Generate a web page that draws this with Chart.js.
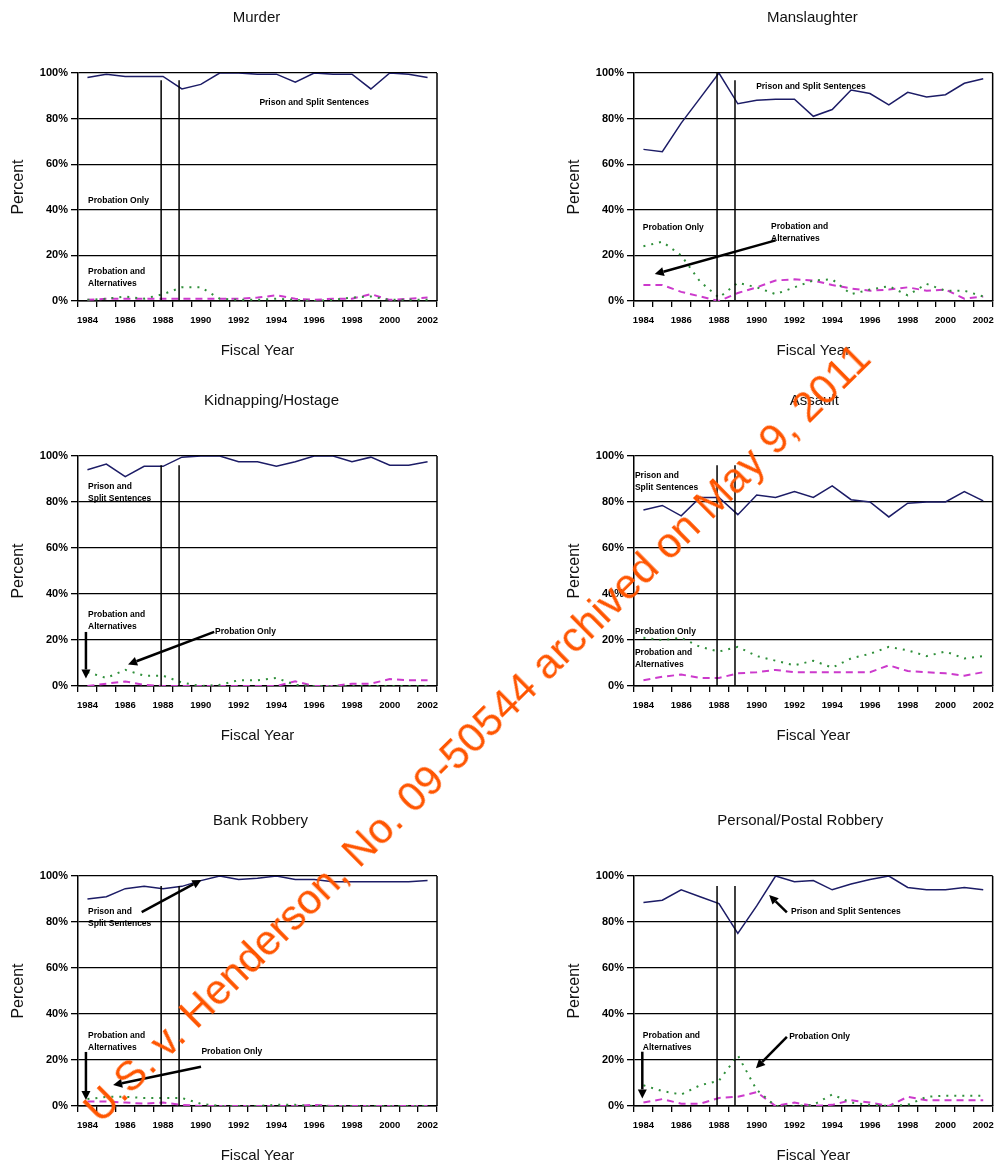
<!DOCTYPE html>
<html>
<head>
<meta charset="utf-8">
<title>Sentence type by offense, FY1984-2002</title>
<script src="https://cdn.jsdelivr.net/npm/chart.js"></script>
<style>
  body { margin: 0; background: #fff; }
  #page { position: relative; width: 1002px; height: 1167px; overflow: hidden; background: #fff; }
  #page canvas { position: absolute; }
  #stamp {
    position: absolute; left: 477px; top: 733px;
    transform: translate(-50%, -50%) rotate(-44.7deg);
    font: 42px "Liberation Sans", Arial, sans-serif; line-height: 1.15;
    color: #ff5500; white-space: nowrap;
  }
</style>
</head>
<body>
<div id="page">
  <canvas id="murder"></canvas>
  <canvas id="manslaughter"></canvas>
  <canvas id="kidnapping"></canvas>
  <canvas id="assault"></canvas>
  <canvas id="bank"></canvas>
  <canvas id="postal"></canvas>
  <div id="stamp">U.S. v. Henderson, No. 09-50544 archived on May 9, 2011</div>
</div>
<script>
// fiscal years on the category axis, every other one labelled
const years = ['1984','1985','1986','1987','1988','1989','1990','1991','1992','1993',
               '1994','1995','1996','1997','1998','1999','2000','2001','2002'];
const yTicks = [0, 20, 40, 60, 80, 100];

// percent of cases per year
const murderPrison   = [98, 99.5, 98.5, 98.5, 98.5, 93, 95, 100, 100, 99.5, 99.5, 96, 100, 99.5, 99.5, 93, 100, 99.5, 98];
const murderProbOnly = [0.5, 1, 2, 1, 3, 6, 6, 1, 0.5, 0.5, 1, 0.5, 0, 0.5, 1.5, 2, 0.5, 0.5, 0.5];
const murderProbAlt  = [0.5, 1, 1, 1, 1, 1, 1, 1, 1, 1.5, 2.5, 1, 0.5, 1, 1, 3, 0.5, 1, 1.5];

const manPrison   = [66.5, 65.5, 78, 89, 100, 86.5, 88, 88.5, 88.5, 81, 84, 92.5, 91, 86, 91.5, 89.5, 90.5, 95.5, 97.5];
const manProbOnly = [24, 26, 20, 8.5, 1.5, 8, 6, 3, 6, 9, 9.5, 3, 5, 6.5, 2.5, 7.5, 4.5, 4.5, 2];
const manProbAlt  = [7, 7, 4, 2, 0, 3.5, 6, 9, 9.5, 9, 7, 5.5, 4.5, 5, 6, 4.5, 5, 1, 2];

const kidPrison   = [94, 96.5, 91, 95.5, 95.5, 99.5, 100, 100, 97.5, 97.5, 95.5, 97.5, 100, 100, 97.5, 99.5, 96, 96, 97.5];
const kidProbOnly = [6, 3.5, 7, 4.5, 4.5, 1.5, 0, 0.5, 2.5, 2.5, 3.5, 0.5, 0, 0, 0, 0, 0, 0, 0];
const kidProbAlt  = [0, 1, 2, 0.5, 0, 0, 0, 0, 0, 0, 0, 2, 0, 0, 1, 1, 3, 2.5, 2.5];

const assaultPrison   = [76.5, 78.5, 74, 82, 82, 74.5, 83, 82, 84.5, 82, 87, 81, 80, 73.5, 79.5, 80, 80, 84.5, 80.5];
const assaultProbOnly = [21, 20, 21, 17, 15, 17, 13, 11, 9, 11, 8, 12, 14, 17, 15.5, 13, 15, 12, 13];
const assaultProbAlt  = [2.5, 4, 5, 3.5, 3.5, 5.5, 6, 7, 6, 6, 6, 6, 6, 9, 6.5, 6, 5.5, 4.5, 6];

const bankPrison   = [90, 91, 94.5, 95.5, 94.5, 95.5, 98, 100, 98.5, 99, 100, 98.5, 98.5, 97.5, 97.5, 97.5, 97.5, 97.5, 98];
const bankProbOnly = [3, 4, 4, 3.5, 3.5, 3.5, 1, 0, 0, 0, 0.5, 0.5, 0, 0, 0, 0, 0, 0, 0];
const bankProbAlt  = [2, 2, 1.5, 1, 1.5, 0.5, 0, 0, 0, 0, 0, 0, 0.5, 0, 0, 0, 0, 0, 0];

const postalPrison   = [88.5, 89.5, 94, 91, 88, 75, 87, 100, 97.5, 98, 94, 96.5, 98.5, 100, 95, 94, 94, 95, 94];
const postalProbOnly = [9, 6.5, 5, 9, 11, 22, 7, 0, 0, 0.5, 5, 1.5, 0.5, 0, 0.5, 4, 4.5, 4.5, 4.5];
const postalProbAlt  = [1.5, 3, 1, 1, 3.5, 4, 6, 0, 1.5, 0, 0.5, 2.5, 1.5, 0, 4, 2.5, 2.5, 2.5, 2.5];

// the two vertical marker lines, in category units (0 = 1984)
const guideLines = [3.9, 4.85];

// one entry per panel; notes and arrows are in data units (category index, percent)
const panels = [
  { id: 'murder', title: 'Murder', col: 0, top: 0, plotH: 228, shift: -1,
    data: [murderPrison, murderProbOnly, murderProbAlt], guideTops: [96.8, 96.8],
    notes: [
      { lines: ['Prison and Split Sentences'], x: 9.1, y: 86.8 },
      { lines: ['Probation Only'], x: 0.03, y: 43.9 },
      { lines: ['Probation and', 'Alternatives'], x: 0.03, y: 12.7 }
    ],
    arrows: [] },
  { id: 'manslaughter', title: 'Manslaughter', col: 1, top: 0, plotH: 228, shift: -1,
    data: [manPrison, manProbOnly, manProbAlt], guideTops: [100, 96.8],
    notes: [
      { lines: ['Prison and Split Sentences'], x: 5.97, y: 93.9 },
      { lines: ['Probation Only'], x: -0.03, y: 32 },
      { lines: ['Probation and', 'Alternatives'], x: 6.76, y: 32.5 }
    ],
    arrows: [ { from: [7.0, 26.6], to: [0.6, 11.8] } ] },
  { id: 'kidnapping', title: 'Kidnapping/Hostage', col: 0, top: 383, plotH: 230, shift: 14,
    data: [kidPrison, kidProbOnly, kidProbAlt], guideTops: [96, 96],
    notes: [
      { lines: ['Prison and', 'Split Sentences'], x: 0.03, y: 86.5 },
      { lines: ['Probation and', 'Alternatives'], x: 0.03, y: 30.9 },
      { lines: ['Probation Only'], x: 6.75, y: 23.5 }
    ],
    arrows: [ { from: [-0.08, 23.5], to: [-0.08, 3.3] }, { from: [6.71, 23.5], to: [2.15, 9.4] } ] },
  { id: 'assault', title: 'Assault', col: 1, top: 383, plotH: 230, shift: 1,
    data: [assaultPrison, assaultProbOnly, assaultProbAlt], guideTops: [96, 96],
    notes: [
      { lines: ['Prison and', 'Split Sentences'], x: -0.45, y: 91.3 },
      { lines: ['Probation Only'], x: -0.45, y: 23.5 },
      { lines: ['Probation and', 'Alternatives'], x: -0.45, y: 14.3 }
    ],
    arrows: [] },
  { id: 'bank', title: 'Bank Robbery', col: 0, top: 803, plotH: 230, shift: 3,
    data: [bankPrison, bankProbOnly, bankProbAlt], guideTops: [95.7, 95.7],
    notes: [
      { lines: ['Prison and', 'Split Sentences'], x: 0.03, y: 84.3 },
      { lines: ['Probation and', 'Alternatives'], x: 0.03, y: 30.4 },
      { lines: ['Probation Only'], x: 6.03, y: 23.5 }
    ],
    arrows: [ { from: [2.87, 84.3], to: [6.03, 98.3] }, { from: [-0.08, 23.5], to: [-0.08, 2.6] },
              { from: [6.01, 17.1], to: [1.36, 9.1] } ] },
  { id: 'postal', title: 'Personal/Postal Robbery', col: 1, top: 803, plotH: 230, shift: -13,
    data: [postalPrison, postalProbOnly, postalProbAlt], guideTops: [95.7, 95.7],
    notes: [
      { lines: ['Prison and Split Sentences'], x: 7.82, y: 84.3 },
      { lines: ['Probation and', 'Alternatives'], x: -0.03, y: 30.4 },
      { lines: ['Probation Only'], x: 7.72, y: 30.1 }
    ],
    arrows: [ { from: [7.6, 84.2], to: [6.66, 91.7] }, { from: [-0.06, 23.6], to: [-0.06, 3.3] },
              { from: [7.6, 30.1], to: [5.96, 16.4] } ] }
];

Chart.defaults.font.family = '"Liberation Sans", Arial, sans-serif';
Chart.defaults.color = '#000';

function drawArrow(ctx, x1, y1, x2, y2) {
  const a = Math.atan2(y2 - y1, x2 - x1);
  const len = 9, half = 4.5;
  const bx = x2 - len * Math.cos(a), by = y2 - len * Math.sin(a);
  ctx.beginPath();
  ctx.moveTo(x1, y1);
  ctx.lineTo(bx, by);
  ctx.stroke();
  ctx.beginPath();
  ctx.moveTo(x2, y2);
  ctx.lineTo(bx + half * Math.sin(a), by - half * Math.cos(a));
  ctx.lineTo(bx - half * Math.sin(a), by + half * Math.cos(a));
  ctx.closePath();
  ctx.fill();
}

function makeChart(p) {
  const canvas = document.getElementById(p.id);
  canvas.width = p.col === 0 ? 450 : 446;
  canvas.height = 73 + p.plotH + 60;
  canvas.style.left = (p.col === 0 ? 0 : 556) + 'px';
  canvas.style.top = p.top + 'px';

  const notesPlugin = {
    id: 'notes',
    afterDatasetsDraw(chart) {
      const ctx = chart.ctx, area = chart.chartArea;
      const X = v => chart.scales.x.getPixelForValue(v);
      const Y = v => chart.scales.y.getPixelForValue(v);
      ctx.save();
      ctx.strokeStyle = '#000';
      ctx.fillStyle = '#000';

      // right edge of the plot
      ctx.lineWidth = 1.5;
      ctx.beginPath();
      ctx.moveTo(area.right, area.top);
      ctx.lineTo(area.right, area.bottom);
      ctx.stroke();

      // vertical marker lines
      guideLines.forEach((g, i) => {
        ctx.beginPath();
        ctx.moveTo(X(g), Y(p.guideTops[i]));
        ctx.lineTo(X(g), Y(0));
        ctx.stroke();
      });

      // series labels
      ctx.font = 'bold 8.5px "Liberation Sans", Arial, sans-serif';
      ctx.textAlign = 'left';
      ctx.textBaseline = 'middle';
      p.notes.forEach(n => {
        n.lines.forEach((t, k) => ctx.fillText(t, X(n.x), Y(n.y) + k * 12));
      });

      // arrows
      ctx.lineWidth = 2.5;
      p.arrows.forEach(a => drawArrow(ctx, X(a.from[0]), Y(a.from[1]), X(a.to[0]), Y(a.to[1])));

      // panel title, centred over the plot
      ctx.font = '15px "Liberation Sans", Arial, sans-serif';
      ctx.textAlign = 'center';
      ctx.fillStyle = '#111';
      ctx.fillText(p.title, (area.left + area.right) / 2 + p.shift, area.top - 55);
      ctx.restore();
    }
  };

  new Chart(canvas, {
    type: 'line',
    data: {
      labels: years,
      datasets: [
        { label: 'Prison and Split Sentences', data: p.data[0],
          borderColor: '#1c1c66', borderWidth: 1.5 },
        { label: 'Probation Only', data: p.data[1],
          borderColor: '#2f8f3a', borderWidth: 2, borderDash: [2, 6] },
        { label: 'Probation and Alternatives', data: p.data[2],
          borderColor: '#cc3acc', borderWidth: 2, borderDash: [7, 5] }
      ]
    },
    options: {
      responsive: false,
      animation: false,
      layout: { padding: { top: 73, left: 0, bottom: 0, right: p.col === 0 ? 13 : 8 } },
      elements: { point: { radius: 0 }, line: { tension: 0, fill: false } },
      plugins: { legend: { display: false }, tooltip: { enabled: false } },
      scales: {
        x: {
          type: 'category',
          offset: true,
          afterFit: s => { s.height = 60; },
          grid: { offset: true, drawOnChartArea: false, drawTicks: true, tickLength: 6, color: '#000', lineWidth: 1.3 },
          border: { display: true, color: '#000', width: 1.5 },
          ticks: {
            autoSkip: false, maxRotation: 0, padding: 8,
            font: { size: 9.5, weight: 'bold' },
            callback: (v, i) => (i % 2 === 0 ? years[i] : '')
          },
          title: { display: true, text: 'Fiscal Year', font: { size: 15 }, color: '#111', padding: { top: 0, bottom: 1 } }
        },
        y: {
          min: 0, max: 100,
          afterFit: s => { s.width = 78; },
          afterBuildTicks: s => { s.ticks = yTicks.map(v => ({ value: v })); },
          grid: { color: '#000', lineWidth: 1.3, tickLength: 7 },
          border: { display: true, color: '#000', width: 1.5 },
          ticks: { padding: 3, font: { size: 11, weight: 'bold' }, callback: v => v + '%' },
          title: { display: true, text: 'Percent', font: { size: 16 }, color: '#111', padding: { top: 9, bottom: 0 } }
        }
      }
    },
    plugins: [notesPlugin]
  });
}

panels.forEach(makeChart);
</script>
</body>
</html>
